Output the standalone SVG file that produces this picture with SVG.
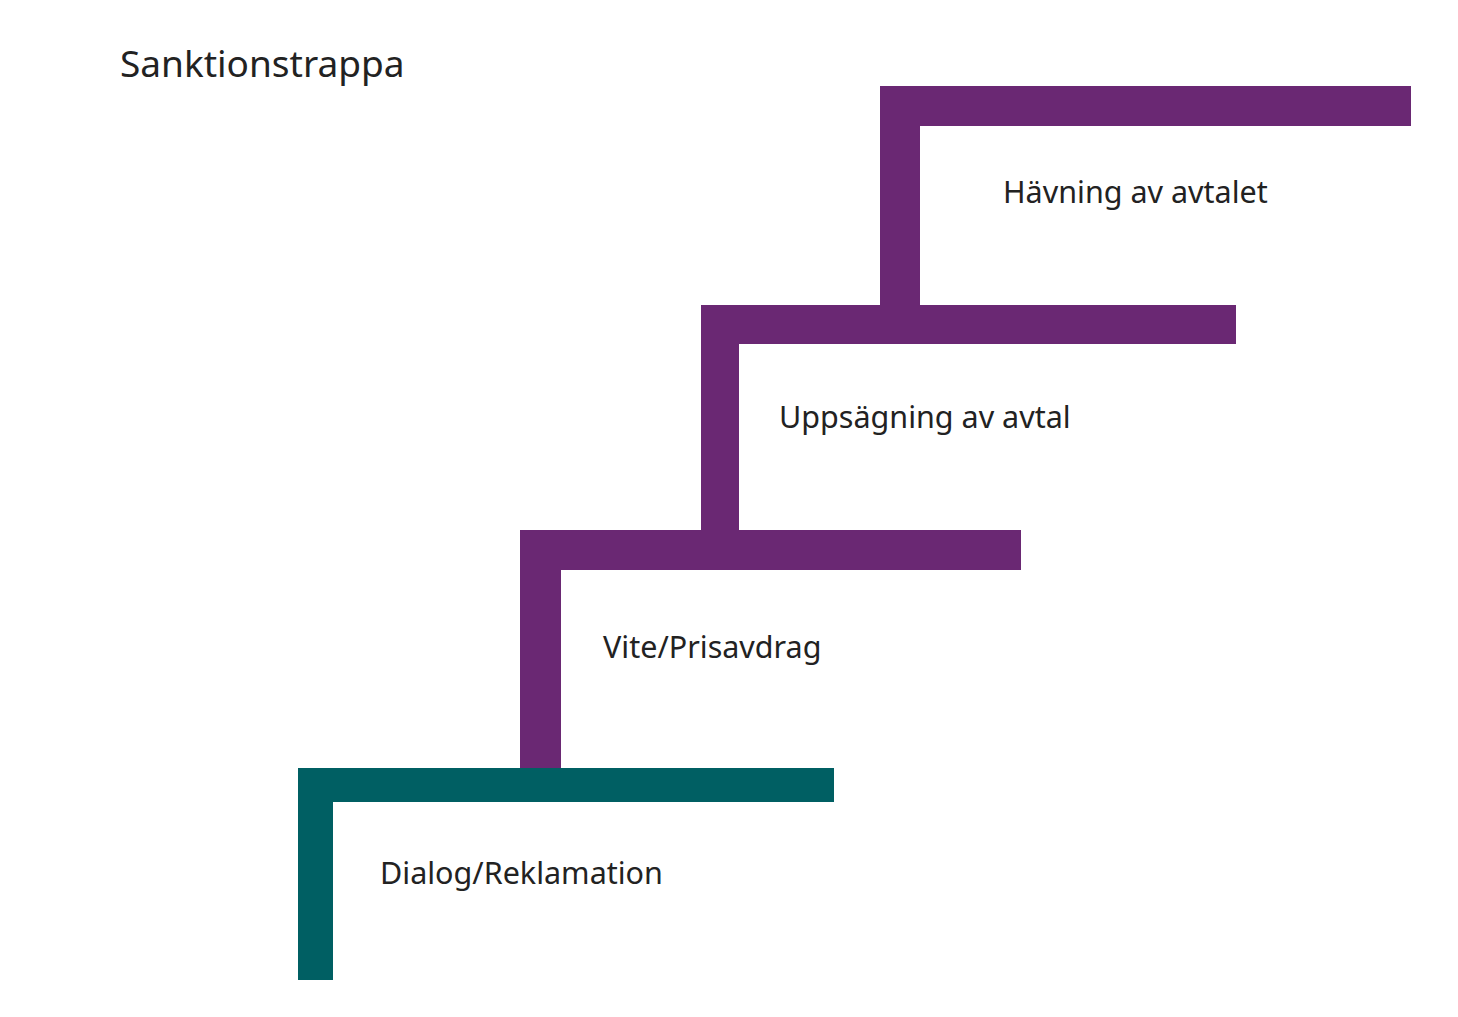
<svg xmlns="http://www.w3.org/2000/svg" width="1458" height="1017" viewBox="0 0 1458 1017">
<style>
.p{fill:#6a2873}
.t{fill:#005f63}
text{font-family:"Noto Sans","Open Sans",sans-serif;fill:#222;}
.lbl{font-size:30.5px}
.ttl{font-size:37px}
</style>
<rect width="1458" height="1017" fill="#fff"/>
<g id="title"><text class="ttl" x="120" y="77">Sanktionstrappa</text></g>
<g id="connectors"></g>
<g id="step1">
<path class="t" d="M298 768H834V802H333V980H298Z"/>
<text class="lbl" x="380" y="884">Dialog/Reklamation</text>
</g>
<g id="step2">
<path class="p" d="M520 530H1021V570H561V768H520Z"/>
<text class="lbl" x="603" y="658">Vite/Prisavdrag</text>
</g>
<g id="step3">
<path class="p" d="M701 305H1236V344H739V530H701Z"/>
<text class="lbl" x="779" y="428">Uppsägning av avtal</text>
</g>
<g id="step4">
<path class="p" d="M880 86H1411V126H920V305H880Z"/>
<text class="lbl" x="1003" y="203">Hävning av avtalet</text>
</g>
</svg>
